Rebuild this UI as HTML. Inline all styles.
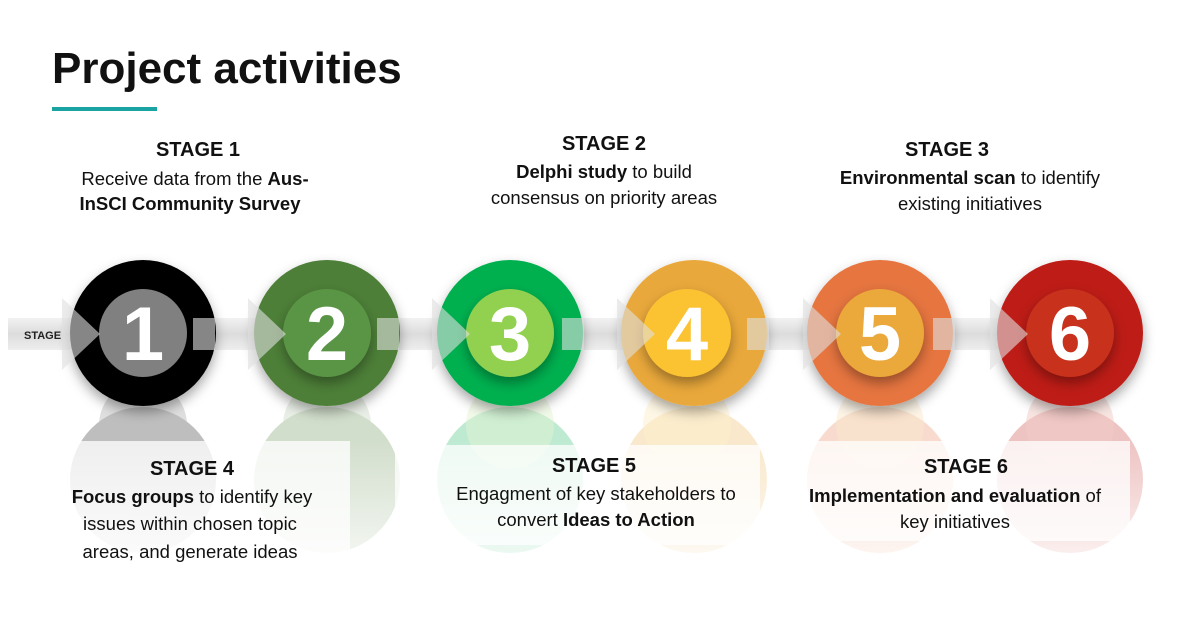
<!DOCTYPE html>
<html><head><meta charset="utf-8"><style>
html,body{margin:0;padding:0;background:#fff;}
svg{display:block;font-family:"Liberation Sans",sans-serif;}
</style></head><body>
<svg width="1177" height="628" viewBox="0 0 1177 628" xmlns="http://www.w3.org/2000/svg">
<defs>
<linearGradient id="band" x1="0" y1="0" x2="0" y2="1"><stop offset="0" stop-color="#f2f2f2"/><stop offset="0.5" stop-color="#dcdcdc"/><stop offset="1" stop-color="#eeeeee"/></linearGradient>
<linearGradient id="refl" x1="0" y1="0" x2="0" y2="1"><stop offset="0" stop-color="#fff" stop-opacity="0"/><stop offset="1" stop-color="#fff" stop-opacity="1"/></linearGradient>
<filter id="sh" x="-30%" y="-30%" width="160%" height="160%"><feDropShadow dx="0" dy="6" stdDeviation="6" flood-color="#000" flood-opacity="0.35"/></filter>
</defs>
<text x="52" y="83" font-size="44" font-weight="bold" fill="#111">Project activities</text>
<rect x="52" y="107" width="105" height="4" fill="#1aa3a3"/>

<!-- reflections -->
<g opacity="0.25">
<circle cx="143" cy="480" r="73" fill="#000"/><circle cx="327" cy="480" r="73" fill="#4e7f38"/>
<circle cx="510" cy="480" r="73" fill="#00b050"/><circle cx="694" cy="480" r="73" fill="#e9a83a"/>
<circle cx="880" cy="480" r="73" fill="#e6743f"/><circle cx="1070" cy="480" r="73" fill="#be1a14"/>
<circle cx="143" cy="425" r="44" fill="#000" opacity="0.5"/><circle cx="327" cy="425" r="44" fill="#4e7f38" opacity="0.5"/>
<circle cx="510" cy="425" r="44" fill="#92d050" opacity="0.5"/><circle cx="687" cy="425" r="44" fill="#fbc233" opacity="0.5"/>
<circle cx="880" cy="425" r="44" fill="#eba83a" opacity="0.5"/><circle cx="1070" cy="425" r="44" fill="#c8321c" opacity="0.5"/>
</g>
<rect x="0" y="440" width="1177" height="160" fill="url(#refl)"/>
<g fill="#fff" opacity="0.75">
<rect x="30" y="441" width="320" height="125"/>
<rect x="395" y="445" width="365" height="100"/>
<rect x="790" y="441" width="340" height="100"/>
</g>

<rect x="8" y="318" width="1120" height="32" fill="url(#band)"/>
<text x="24" y="339" font-size="11" font-weight="bold" fill="#222">STAGE</text>

<g filter="url(#sh)">
<circle cx="143" cy="333" r="73" fill="#000"/>
<circle cx="327" cy="333" r="73" fill="#4e7f38"/>
<circle cx="510" cy="333" r="73" fill="#00b050"/>
<circle cx="694" cy="333" r="73" fill="#e9a83a"/>
<circle cx="880" cy="333" r="73" fill="#e6743f"/>
<circle cx="1070" cy="333" r="73" fill="#be1a14"/>
</g>
<g filter="url(#sh)">
<circle cx="143" cy="333" r="44" fill="#808080"/>
<circle cx="327" cy="333" r="44" fill="#5a9445"/>
<circle cx="510" cy="333" r="44" fill="#92d050"/>
<circle cx="687" cy="333" r="44" fill="#fbc233"/>
<circle cx="880" cy="333" r="44" fill="#eba83a"/>
<circle cx="1070" cy="333" r="44" fill="#c8321c"/>
</g>
<g fill="#e0e0e0" opacity="0.6">
<polygon points="62,298 100,334 62,370"/><polygon points="248,298 286,334 248,370"/>
<polygon points="432,298 470,334 432,370"/><polygon points="617,298 655,334 617,370"/>
<polygon points="803,298 841,334 803,370"/><polygon points="990,298 1028,334 990,370"/>
<rect x="193" y="318" width="22" height="32"/><rect x="377" y="318" width="22" height="32"/>
<rect x="562" y="318" width="22" height="32"/><rect x="747" y="318" width="22" height="32"/>
<rect x="933" y="318" width="22" height="32"/>
</g>
<g font-size="76" font-weight="bold" fill="#fff" text-anchor="middle">
<text x="143" y="360">1</text><text x="327" y="360">2</text><text x="510" y="360">3</text>
<text x="687" y="360">4</text><text x="880" y="360">5</text><text x="1070" y="360">6</text>
</g>

<g font-size="18.5" fill="#111" text-anchor="middle">
<text x="198" y="156" font-size="20" font-weight="bold">STAGE 1</text>
<text x="195" y="185">Receive data from the <tspan font-weight="bold">Aus-</tspan></text>
<text x="190" y="210" font-weight="bold">InSCI Community Survey</text>

<text x="604" y="150" font-size="20" font-weight="bold">STAGE 2</text>
<text x="604" y="178"><tspan font-weight="bold">Delphi study</tspan> to build</text>
<text x="604" y="204">consensus on priority areas</text>

<text x="947" y="156" font-size="20" font-weight="bold">STAGE 3</text>
<text x="970" y="184"><tspan font-weight="bold">Environmental scan</tspan> to identify</text>
<text x="970" y="210">existing initiatives</text>

<text x="192" y="475" font-size="20" font-weight="bold">STAGE 4</text>
<text x="192" y="503"><tspan font-weight="bold">Focus groups</tspan> to identify key</text>
<text x="190" y="530">issues within chosen topic</text>
<text x="190" y="558">areas, and generate ideas</text>

<text x="594" y="472" font-size="20" font-weight="bold">STAGE 5</text>
<text x="596" y="500">Engagment of key stakeholders to</text>
<text x="596" y="526">convert <tspan font-weight="bold">Ideas to Action</tspan></text>

<text x="966" y="473" font-size="20" font-weight="bold">STAGE 6</text>
<text x="955" y="502"><tspan font-weight="bold">Implementation and evaluation</tspan> of</text>
<text x="955" y="528">key initiatives</text>
</g>
</svg>
</body></html>
